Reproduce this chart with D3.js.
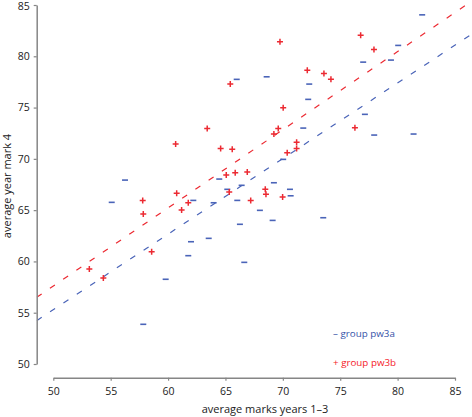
<!DOCTYPE html>
<html><head><meta charset="utf-8">
<script src="https://cdn.jsdelivr.net/npm/d3@7"></script>
<style>body{margin:0;background:#fff}svg{display:block}</style>
</head><body>
<svg id="c" width="472" height="417"></svg>
<script>
// Data (x = average marks years 1–3, y = average year mark 4)
const groupAx = [82.14,80.05,79.42,77.0,72.3,72.21,77.15,77.96,81.39,65.98,68.59,71.78,73.52,64.46,65.16,66.41,66.03,63.97,62.2,68.0,69.11,66.26,62.0,63.54,61.76,66.64,69.22,70.62,70.68,70.03,56.25,55.09,57.84,59.79];
const groupAy = [84.04,81.06,79.63,79.43,77.29,75.8,74.34,72.32,72.42,77.75,78.0,73.0,64.26,68.03,67.03,67.42,65.95,65.72,65.95,64.98,64.0,63.62,61.92,62.25,60.56,59.91,67.67,67.03,66.4,69.95,67.93,65.76,53.87,58.26];
const groupBx = [69.75,72.13,65.42,70.03,63.41,69.6,69.22,76.78,77.94,73.58,74.19,76.28,60.66,64.58,65.59,71.2,71.2,70.38,65.07,65.85,66.9,60.75,61.76,61.18,65.33,68.47,68.53,67.2,69.98,58.57,57.79,57.84,53.14,54.36];
const groupBy = [81.41,78.65,77.29,74.98,72.97,72.97,72.42,82.04,80.67,78.33,77.75,73.03,71.44,71.02,70.93,71.61,71.02,70.59,68.42,68.65,68.71,66.64,65.72,65.01,66.76,67.03,66.54,65.95,66.28,60.95,65.95,64.62,59.26,58.38];
// Linear trend lines [intercept, slope]
const trendA = [18.44, 0.737];
const trendB = [19.50, 0.762];
const xTicks = [50,55,60,65,70,75,80,85];
const yTicks = [50,55,60,65,70,75,80,85];
const legendLabels = ["group pw3a","group pw3b"];
const legendSymbols = ["\u2013","+"];

const blue = "#4a64b8", red = "#ec2a32", axisCol = "#868686", textCol = "#222";
const legBlue = "#3552a8", legRed = "#f52028";
const svg = d3.select("#c");
const x = d3.scaleLinear().domain([50,85]).range([53.3,455]);
const y = d3.scaleLinear().domain([50,85]).range([364,5]);
const xAxisY = 377.7, yAxisX = 36.7;

svg.append("defs").append("clipPath").attr("id","clip")
  .append("rect").attr("x",yAxisX).attr("y",0).attr("width",472-yAxisX).attr("height",xAxisY);

// trend lines
const x0 = x.invert(yAxisX), x1 = x.invert(472);
[[trendA,blue],[trendB,red]].forEach(([t,col])=>{
  svg.append("line").attr("clip-path","url(#clip)")
    .attr("x1",x(x0)).attr("y1",y(t[0]+t[1]*x0))
    .attr("x2",x(x1)).attr("y2",y(t[0]+t[1]*x1))
    .attr("stroke",col).attr("stroke-width",1.2).attr("stroke-dasharray","6,10");
});

// axes
const xa = svg.append("g").attr("transform",`translate(0,${xAxisY})`)
  .call(d3.axisBottom(x).tickValues(xTicks).tickSize(3).tickSizeOuter(0).tickPadding(7));
const ya = svg.append("g").attr("transform",`translate(${yAxisX},0)`)
  .call(d3.axisLeft(y).tickValues(yTicks).tickSize(3).tickSizeOuter(0).tickPadding(4));
[xa,ya].forEach(g=>{
  g.select(".domain").attr("stroke",axisCol).attr("stroke-width",1.5);
  g.selectAll(".tick line").attr("stroke",axisCol).attr("stroke-width",1.2);
  g.selectAll("text").attr("font-family","'Open Sans', sans-serif").attr("font-size",10.5).attr("fill",textCol);
});
ya.selectAll(".tick text").filter(d=>d===85).attr("dy","0.45em");

// markers
const A = groupAx.map((v,i)=>[v,groupAy[i]]);
const B = groupBx.map((v,i)=>[v,groupBy[i]]);
svg.append("g").selectAll("line").data(A).join("line")
  .attr("x1",d=>x(d[0])-3).attr("x2",d=>x(d[0])+3)
  .attr("y1",d=>y(d[1])).attr("y2",d=>y(d[1]))
  .attr("stroke",blue).attr("stroke-width",1.6);
svg.append("g").selectAll("path").data(B).join("path")
  .attr("d",d=>{const cx=x(d[0]),cy=y(d[1]);return `M${cx-3},${cy}H${cx+3}M${cx},${cy-3}V${cy+3}`;})
  .attr("stroke",red).attr("stroke-width",1.5).attr("fill","none");

// axis titles
svg.append("text").attr("x",265).attr("y",413).attr("text-anchor","middle")
  .attr("font-family","'Open Sans', sans-serif").attr("font-size",11).attr("fill",textCol)
  .text("average marks years 1\u20133");
svg.append("text").attr("transform","translate(11,186) rotate(-90)").attr("text-anchor","middle")
  .attr("font-family","'Open Sans', sans-serif").attr("font-size",11).attr("fill",textCol)
  .text("average year mark 4");

// legend
const legY = [337, 366];
[legBlue,legRed].forEach((col,i)=>{
  svg.append("text").attr("x",333).attr("y",legY[i])
    .attr("font-family","'Open Sans', sans-serif").attr("font-size",9.8).attr("fill",col)
    .text(legendSymbols[i]+" "+legendLabels[i]);
});
</script>
</body></html>
